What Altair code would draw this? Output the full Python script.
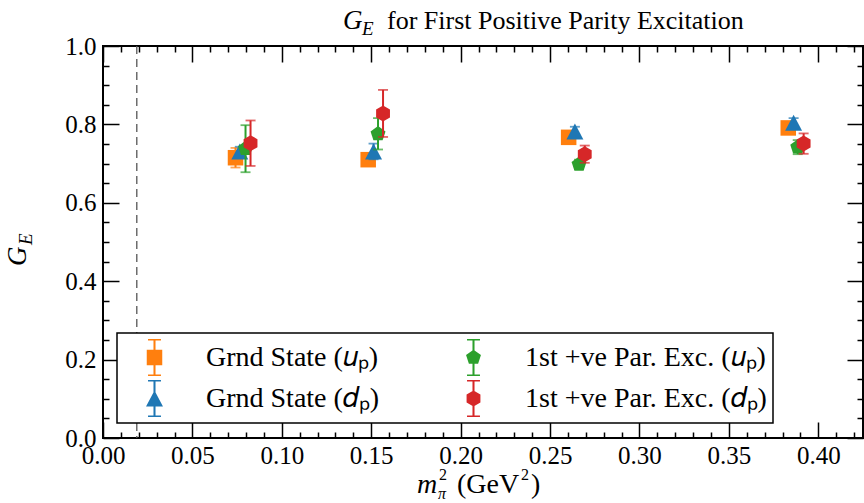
import altair as alt
import pandas as pd

FONT = "Liberation Serif"

# ---- data -------------------------------------------------------------
series_names = [
    "Grnd State (𝑢ₚ)",
    "Grnd State (𝑑ₚ)",
    "1st +ve Par. Exc. (𝑢ₚ)",
    "1st +ve Par. Exc. (𝑑ₚ)",
]
series_colors = ["#ff7f0e", "#1f77b4", "#2ca02c", "#d62728"]

# m_pi^2 (GeV^2), each series slightly staggered
x_grnd_up = [0.0741, 0.1483, 0.2604, 0.3832]
x_grnd_dp = [0.0765, 0.1513, 0.2639, 0.3862]
x_exc_up = [0.0797, 0.1538, 0.2662, 0.3885]
x_exc_dp = [0.0825, 0.1566, 0.2694, 0.3918]

# G_E values
ge_grnd_up = [0.715, 0.710, 0.767, 0.791]
ge_grnd_dp = [0.731, 0.731, 0.782, 0.804]
ge_exc_up = [0.738, 0.776, 0.698, 0.742]
ge_exc_dp = [0.752, 0.828, 0.724, 0.751]

# statistical errors
err_grnd_up = [0.025, 0.012, 0.012, 0.012]
err_grnd_dp = [0.012, 0.020, 0.012, 0.012]
err_exc_up = [0.060, 0.040, 0.012, 0.018]
err_exc_dp = [0.058, 0.060, 0.022, 0.026]

# physical pion mass squared
physical_mpi2 = [0.0189]

x_major = [0.00, 0.05, 0.10, 0.15, 0.20, 0.25, 0.30, 0.35, 0.40]
x_minor = [0.01, 0.02, 0.03, 0.04, 0.06, 0.07, 0.08, 0.09, 0.11, 0.12, 0.13,
           0.14, 0.16, 0.17, 0.18, 0.19, 0.21, 0.22, 0.23, 0.24, 0.26, 0.27,
           0.28, 0.29, 0.31, 0.32, 0.33, 0.34, 0.36, 0.37, 0.38, 0.39, 0.41, 0.42]
y_major = [0.0, 0.2, 0.4, 0.6, 0.8, 1.0]
y_minor = [0.05, 0.10, 0.15, 0.25, 0.30, 0.35, 0.45, 0.50, 0.55, 0.65, 0.70,
           0.75, 0.85, 0.90, 0.95]

title_rest = "for First Positive Parity Excitation"

W, H = 760, 392

# ---- marker shapes (unit square -1..1) ----------------------------------
square_pts = [(-0.97, -0.97), (0.97, -0.97), (0.97, 0.97), (-0.97, 0.97)]
triangle_pts = [(0, -1.0), (1.06, 1.0), (-1.06, 1.0)]
pentagon_pts = [(0, -0.98), (0.932, -0.303), (0.576, 0.793), (-0.576, 0.793), (-0.932, -0.303)]
hexagon_pts = [(0, -1.0), (0.866, -0.5), (0.866, 0.5), (0, 1.0), (-0.866, 0.5), (-0.866, -0.5)]
marker_pts = [square_pts, triangle_pts, pentagon_pts, hexagon_pts]


def poly(pts, s=1.0):
    return "M" + "L".join(f"{x * s:.3f},{y * s:.3f}" for x, y in pts) + "Z"


def legend_symbol(pts):
    # error bar with caps plus the marker, as one filled path
    bar = [(-0.055, -1), (0.055, -1), (0.055, 1), (-0.055, 1)]
    cap_top = [(-0.35, -1), (0.35, -1), (0.35, -0.92), (-0.35, -0.92)]
    cap_bot = [(-0.35, 0.92), (0.35, 0.92), (0.35, 1), (-0.35, 1)]
    return poly(bar) + poly(cap_top) + poly(cap_bot) + poly(pts, 0.4324)


marker_paths = [poly(p) for p in marker_pts]
legend_paths = [legend_symbol(p) for p in marker_pts]

xs = [x_grnd_up, x_grnd_dp, x_exc_up, x_exc_dp]
ys = [ge_grnd_up, ge_grnd_dp, ge_exc_up, ge_exc_dp]
es = [err_grnd_up, err_grnd_dp, err_exc_up, err_exc_dp]

xscale = alt.Scale(domain=[0, 0.425], nice=False, zero=False)
yscale = alt.Scale(domain=[0, 1.0], nice=False, zero=False)

tick_common = dict(labels=False, domain=False, grid=False, title=None,
                   ticks=True, tickColor="black", tickWidth=1.5)
label_common = dict(ticks=False, tickSize=0, domain=False, grid=False, title=None,
                    labelFont=FONT, labelFontSize=25, labelColor="black",
                    labelFlush=False, labelOverlap=False)

axes_x = [
    alt.Axis(orient="bottom", values=x_major, format=".2f", labelPadding=5, **label_common),
    alt.Axis(orient="top", offset=-H, values=x_major, tickSize=16, **tick_common),
    alt.Axis(orient="top", offset=-H, values=x_minor, tickSize=6, **tick_common),
    alt.Axis(orient="bottom", offset=-H, values=x_major, tickSize=16, **tick_common),
    alt.Axis(orient="bottom", offset=-H, values=x_minor, tickSize=6, **tick_common),
]
axes_y = [
    alt.Axis(orient="left", values=y_major, format=".1f", labelPadding=7, **label_common),
    alt.Axis(orient="right", offset=-W, values=y_major, tickSize=16, **tick_common),
    alt.Axis(orient="right", offset=-W, values=y_minor, tickSize=6, **tick_common),
    alt.Axis(orient="left", offset=-W, values=y_major, tickSize=16, **tick_common),
    alt.Axis(orient="left", offset=-W, values=y_minor, tickSize=6, **tick_common),
]
axis_slot = [0]


def next_axes():
    i = axis_slot[0]
    axis_slot[0] += 1
    if i < len(axes_x):
        return axes_x[i], axes_y[i]
    return None, None


layers = []

# dashed line at the physical point
layers.append(
    alt.Chart(pd.DataFrame({"mpi2": physical_mpi2}))
    .mark_rule(color="#555555", strokeDash=[8, 5], strokeWidth=1.3)
    .encode(x=alt.X("mpi2:Q", scale=xscale, axis=None))
)

for name, color, path, x, y, e in zip(series_names, series_colors, marker_paths, xs, ys, es):
    df = pd.DataFrame({"mpi2": x, "ge": y, "err": e})
    df["lo"] = df["ge"] - df["err"]
    df["hi"] = df["ge"] + df["err"]
    caps = pd.DataFrame({"mpi2": list(x) + list(x), "cap": list(df["lo"]) + list(df["hi"])})

    ax, ay = next_axes()
    layers.append(
        alt.Chart(df).mark_rule(color=color, strokeWidth=2).encode(
            x=alt.X("mpi2:Q", scale=xscale, axis=ax),
            y=alt.Y("lo:Q", scale=yscale, axis=ay),
            y2="hi:Q",
        )
    )
    ax, ay = next_axes()
    layers.append(
        alt.Chart(caps).mark_tick(color=color, orient="horizontal", size=10, thickness=1.8).encode(
            x=alt.X("mpi2:Q", scale=xscale, axis=ax),
            y=alt.Y("cap:Q", scale=yscale, axis=ay),
        )
    )
    ax, ay = next_axes()
    layers.append(
        alt.Chart(df).mark_point(shape=path, filled=True, size=256, opacity=1,
                                 color=color, strokeWidth=0).encode(
            x=alt.X("mpi2:Q", scale=xscale, axis=ax),
            y=alt.Y("ge:Q", scale=yscale, axis=ay),
        )
    )

# legend (two columns filled column by column; symbols show marker with error bar)
legend = alt.Legend(
    orient="none", legendX=14, legendY=287, columns=2, title=None,
    symbolSize=1369, symbolStrokeWidth=0, symbolOpacity=1,
    symbolOffset=13, labelOffset=33, labelFont=FONT, labelFontSize=28,
    labelColor="black", labelLimit=0, padding=6, rowPadding=4, columnPadding=62,
    strokeColor="black", fillColor="white", cornerRadius=0,
)
layers.append(
    alt.Chart(pd.DataFrame({"series": series_names}))
    .transform_filter("false")
    .mark_point(filled=True, opacity=1, size=1369)
    .encode(
        color=alt.Color("series:N", scale=alt.Scale(domain=series_names, range=series_colors), legend=legend),
        shape=alt.Shape("series:N", scale=alt.Scale(domain=series_names, range=legend_paths), legend=legend),
    )
)

# titles built from text pieces (italic symbols with sub/superscripts)
one = pd.DataFrame({"k": [0]})


def text_piece(txt, x, y, size, italic=False, angle=0):
    kw = dict(text=txt, font=FONT, fontSize=size, color="black", align="left", baseline="alphabetic")
    if italic:
        kw["fontStyle"] = "italic"
    if angle:
        kw["angle"] = angle
    return alt.Chart(one).mark_text(**kw).encode(x=alt.value(x), y=alt.value(y))


layers += [
    text_piece("G", 240, -17, 27, italic=True),
    text_piece("E", 259, -11, 19, italic=True),
    text_piece(title_rest, 284, -17, 26),
    text_piece("G", -77, 220, 27, italic=True, angle=270),
    text_piece("E", -71, 199, 19, italic=True, angle=270),
    text_piece("m", 314, 447, 28, italic=True),
    text_piece("2", 336, 434, 16),
    text_piece("π", 335, 453, 16, italic=True),
    text_piece("(GeV", 354, 447, 28),
    text_piece("2", 418, 434, 16),
    text_piece(")", 428, 447, 28),
]

chart = (
    alt.layer(*layers)
    .resolve_axis(x="independent", y="independent")
    .properties(
        width=W, height=H,
        autosize=alt.AutoSizeParams(type="none"),
        padding={"left": 103, "top": 46, "right": 1, "bottom": 65},
        background="white",
    )
    .configure_view(stroke="black", strokeWidth=2)
    .configure_legend(strokeWidth=1.5)
)

chart.save("out.html", embed_options={"renderer": "svg", "actions": False})
